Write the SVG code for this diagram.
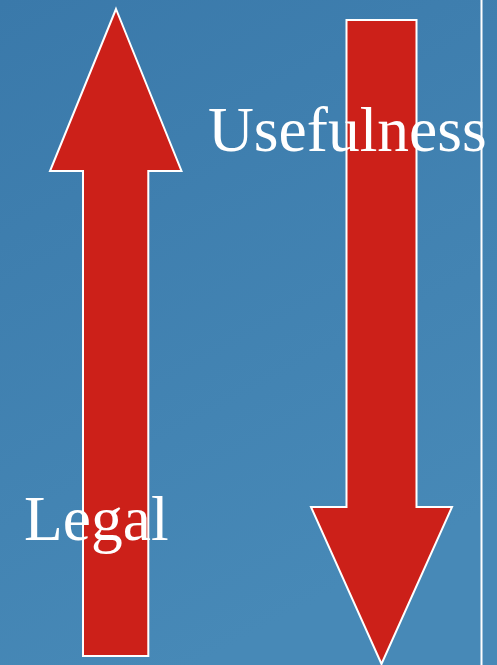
<svg xmlns="http://www.w3.org/2000/svg" width="497" height="665" viewBox="0 0 497 665">
<defs>
<linearGradient id="bg" x1="0" y1="0" x2="0.4" y2="1">
<stop offset="0" stop-color="#3a79aa"/>
<stop offset="1" stop-color="#4789b7"/>
</linearGradient>
<style>
.arrow{fill:#cc2019;stroke:#ffffff;stroke-width:2;stroke-linejoin:miter}
.lbl{font-family:"Liberation Serif","Times New Roman",serif;font-size:63.5px;fill:#ffffff}
</style>
</defs>
<rect x="0" y="0" width="497" height="665" fill="url(#bg)"/>
<line x1="481.5" y1="0" x2="481.5" y2="665" stroke="#ffffff" stroke-width="2"/>
<g id="up-arrow">
<polygon class="arrow" points="116,9 181.5,171 148.3,171 148.3,656 83,656 83,171 50,171"/>
</g>
<g id="down-arrow">
<polygon class="arrow" points="346.5,20 416.5,20 416.5,507 452,507 381.5,664 311,507 346.5,507"/>
</g>
<g id="usefulness">
<text class="lbl" x="208" y="151">Usefulness</text>
</g>
<g id="legal">
<text class="lbl" x="24" y="540">Legal</text>
</g>
</svg>
